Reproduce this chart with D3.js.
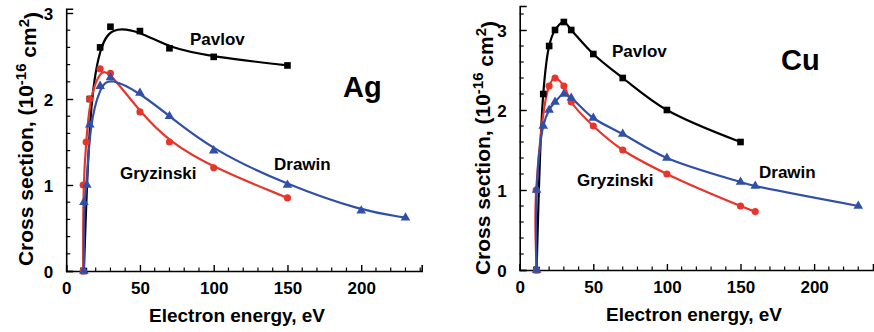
<!DOCTYPE html>
<html>
<head>
<meta charset="utf-8">
<script src="https://cdn.jsdelivr.net/npm/d3@7"></script>
<style>
  html, body { margin: 0; padding: 0; background: #fff; }
  svg { display: block; font-family: "Liberation Sans", Arial, Helvetica, sans-serif; font-weight: bold; }
</style>
</head>
<body>
<svg id="chart" width="874" height="332"></svg>
<script>
// Ionization cross sections vs electron energy (eV), units of 1e-16 cm^2
const xTicks = [0, 50, 100, 150, 200];

// Ag
const agPavlovE = [12, 16, 23, 30, 50, 70, 100, 150];
const agPavlovS = [0, 2.0, 2.6, 2.84, 2.79, 2.59, 2.49, 2.39];
const agGryzE = [11.5, 11.5, 13.5, 16, 23, 30, 50, 70, 100, 150];
const agGryzS = [0, 1.0, 1.5, 2.0, 2.35, 2.3, 1.85, 1.5, 1.2, 0.85];
const agDrawinE = [12, 12, 14, 16, 23, 30, 50, 70, 100, 150, 200, 230];
const agDrawinS = [0, 0.8, 1.0, 1.7, 2.15, 2.25, 2.07, 1.8, 1.4, 1.0, 0.7, 0.62];

// Cu
const cuPavlovE = [11.5, 16, 20, 24, 30, 35, 50, 70, 100, 150];
const cuPavlovS = [0, 2.2, 2.8, 3.0, 3.1, 3.0, 2.7, 2.4, 2.0, 1.6];
const cuGryzE = [11.5, 11.2, 20, 24, 30, 35, 50, 70, 100, 150, 160];
const cuGryzS = [0, 1.0, 2.3, 2.4, 2.3, 2.1, 1.8, 1.5, 1.2, 0.8, 0.73];
const cuDrawinE = [11.5, 11.5, 16, 20, 24, 30, 35, 50, 70, 100, 150, 160, 230];
const cuDrawinS = [0, 1.0, 1.8, 2.0, 2.1, 2.2, 2.15, 1.9, 1.7, 1.4, 1.1, 1.05, 0.8];

const colors = { pavlov: "#000000", gryz: "#e8352b", drawin: "#3050a8" };

const zip = (xs, ys) => xs.map((x, i) => ({ x, y: ys[i] }));

const panels = [
  {
    element: "Ag",
    xMax: 241, yMax: 3.05, yTicks: [0, 1, 2, 3],
    xRange: [66.2, 421.7], yRange: [271, 8.7],
    curve: d3.curveBasis,
    series: [
      { key: "pavlov", data: zip(agPavlovE, agPavlovS), marker: "square" },
      { key: "gryz", data: zip(agGryzE, agGryzS), marker: "circle" },
      { key: "drawin", data: zip(agDrawinE, agDrawinS), marker: "triangle" }
    ],
    labels: [
      { text: "Pavlov", x: 190, y: 45, size: 17 },
      { text: "Gryzinski", x: 120, y: 179, size: 17 },
      { text: "Drawin", x: 274, y: 170, size: 17 },
      { text: "Ag", x: 343, y: 97, size: 29 }
    ],
    yTitle: { x: 33, y: 139 },
    xTitle: { x: 237, y: 322 }
  },
  {
    element: "Cu",
    xMax: 240, yMax: 3.3, yTicks: [0, 1, 2, 3],
    xRange: [519.7, 873], yRange: [270, 6],
    curve: d3.curveCatmullRom.alpha(0.5),
    series: [
      { key: "pavlov", data: zip(cuPavlovE, cuPavlovS), marker: "square" },
      { key: "gryz", data: zip(cuGryzE, cuGryzS), marker: "circle" },
      { key: "drawin", data: zip(cuDrawinE, cuDrawinS), marker: "triangle" }
    ],
    labels: [
      { text: "Pavlov", x: 612, y: 57, size: 17 },
      { text: "Gryzinski", x: 577, y: 186, size: 17 },
      { text: "Drawin", x: 759, y: 178, size: 17 },
      { text: "Cu", x: 781, y: 70, size: 29 }
    ],
    yTitle: { x: 490, y: 148 },
    xTitle: { x: 694, y: 321 }
  }
];

const svg = d3.select("#chart");

panels.forEach(p => {
  const x = d3.scaleLinear().domain([0, p.xMax]).range(p.xRange);
  const y = d3.scaleLinear().domain([0, p.yMax]).range(p.yRange);
  const g = svg.append("g");

  // minor ticks, drawn inward
  const xMinor = d3.range(10, p.xMax, 10).filter(v => v % 50 !== 0);
  const yMinor = d3.range(0.2, p.yMax, 0.2).map(v => +v.toFixed(1)).filter(v => Math.abs(v - Math.round(v)) > 1e-6);

  const xAxis = d3.axisBottom(x).tickValues(xTicks).tickSize(-6).tickPadding(11).tickFormat(d3.format("d"));
  const yAxis = d3.axisLeft(y).tickValues(p.yTicks).tickSize(-7).tickPadding(13).tickFormat(d3.format("d"));

  const gx = g.append("g").attr("transform", `translate(0,${p.yRange[0]})`).call(xAxis);
  const gy = g.append("g").attr("transform", `translate(${p.xRange[0]},0)`).call(yAxis);
  [gx, gy].forEach(a => {
    a.select(".domain").attr("stroke", "#000").attr("stroke-width", 1.6);
    a.selectAll(".tick line").attr("stroke", "#000").attr("stroke-width", 1.4);
    a.selectAll(".tick text").attr("fill", "#000").style("font-size", "17px").style("font-weight", "bold")
      .style("font-family", '"Liberation Sans", Arial, sans-serif');
  });
  gy.selectAll(".tick text").attr("dy", "0.36em");

  g.append("g").selectAll("line").data(xMinor).join("line")
    .attr("x1", d => x(d)).attr("x2", d => x(d))
    .attr("y1", p.yRange[0]).attr("y2", p.yRange[0] - 3.5)
    .attr("stroke", "#000").attr("stroke-width", 1.2);
  g.append("g").selectAll("line").data(yMinor).join("line")
    .attr("y1", d => y(d)).attr("y2", d => y(d))
    .attr("x1", p.xRange[0]).attr("x2", p.xRange[0] + 4)
    .attr("stroke", "#000").attr("stroke-width", 1.2);

  // smooth curves through the computed points
  const line = d3.line().x(d => x(d.x)).y(d => y(d.y)).curve(p.curve);
  p.series.forEach(s => {
    g.append("path").datum(s.data)
      .attr("fill", "none").attr("stroke", colors[s.key]).attr("stroke-width", 2.2)
      .attr("stroke-linejoin", "round")
      .attr("d", line);
  });

  // markers
  const symbols = { square: d3.symbolSquare, circle: d3.symbolCircle, triangle: d3.symbolTriangle };
  const sizes = { square: 44, circle: 40, triangle: 40 };
  p.series.forEach(s => {
    g.append("g").selectAll("path").data(s.data).join("path")
      .attr("transform", d => `translate(${x(d.x)},${y(d.y)})`)
      .attr("d", d3.symbol().type(symbols[s.marker]).size(sizes[s.marker]))
      .attr("fill", colors[s.key]);
  });

  // curve labels and element name
  p.labels.forEach(l => {
    g.append("text").attr("x", l.x).attr("y", l.y)
      .style("font-size", l.size + "px").attr("fill", "#000").text(l.text);
  });

  // axis titles
  g.append("text").attr("x", p.xTitle.x).attr("y", p.xTitle.y)
    .attr("text-anchor", "middle").style("font-size", "19px").text("Electron energy, eV");

  const yt = g.append("text")
    .attr("transform", `translate(${p.yTitle.x},${p.yTitle.y}) rotate(-90)`)
    .attr("text-anchor", "middle").style("font-size", "21px");
  yt.append("tspan").text("Cross section, (10");
  yt.append("tspan").attr("dy", "-0.5em").style("font-size", "15px").text("-16");
  yt.append("tspan").attr("dy", "0.5em").text(" cm");
  yt.append("tspan").attr("dy", "-0.5em").style("font-size", "15px").text("2");
  yt.append("tspan").attr("dy", "0.5em").text(")");
});
</script>
</body>
</html>
